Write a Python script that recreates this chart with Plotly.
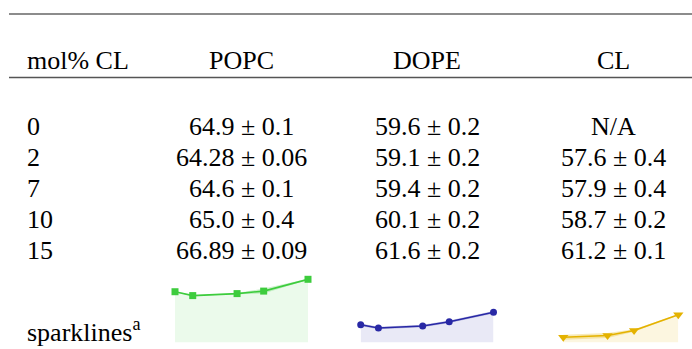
import plotly.graph_objects as go

mol_cl = [0, 2, 7, 10, 15]
row_labels = ["0", "2", "7", "10", "15"]
columns = ["POPC", "DOPE", "CL"]
popc_val = [64.9, 64.28, 64.6, 65.0, 66.89]
popc_err = [0.1, 0.06, 0.1, 0.4, 0.09]
popc_txt = ["64.9 ± 0.1", "64.28 ± 0.06", "64.6 ± 0.1", "65.0 ± 0.4", "66.89 ± 0.09"]
dope_val = [59.6, 59.1, 59.4, 60.1, 61.6]
dope_err = [0.2, 0.2, 0.2, 0.2, 0.2]
dope_txt = ["59.6 ± 0.2", "59.1 ± 0.2", "59.4 ± 0.2", "60.1 ± 0.2", "61.6 ± 0.2"]
cl_x = [2, 7, 10, 15]
cl_val = [57.6, 57.9, 58.7, 61.2]
cl_err = [0.4, 0.4, 0.2, 0.1]
cl_txt = ["N/A", "57.6 ± 0.4", "57.9 ± 0.4", "58.7 ± 0.2", "61.2 ± 0.1"]

W, H = 692, 349
FONT = "Liberation Serif"
FS = 26

fig = go.Figure()

def px(x):
    return x / W

def py(y):
    return 1 - y / H

# sparkline axes
x_doms = [(175, 308), (360.7, 493.5), (545.6, 678.3)]
y_dom = (270, 342.3)
y_range = [56.8, 68.38]

series = [
    (mol_cl, popc_val, popc_err, "rgb(61,204,61)", "rgba(61,204,61,0.10)", "rgba(61,204,61,0.25)", "square", 7),
    (mol_cl, dope_val, dope_err, "rgb(40,40,165)", "rgba(40,40,165,0.10)", "rgba(40,40,165,0.25)", "circle", 7),
    (cl_x, cl_val, cl_err, "rgb(228,178,0)", "rgba(228,178,0,0.12)", "rgba(228,178,0,0.28)", "triangle-down", 9),
]

for i, (xs, ys, es, col, area, band, sym, ms) in enumerate(series):
    n = "" if i == 0 else str(i + 1)
    xa, ya = "x" + n, "y" + n
    fig.add_trace(go.Scatter(x=xs, y=ys, mode="lines", line=dict(width=0), fill="tozeroy",
                             fillcolor=area, xaxis=xa, yaxis=ya, hoverinfo="skip"))
    lo = [v - e for v, e in zip(ys, es)]
    hi = [v + e for v, e in zip(ys, es)]
    fig.add_trace(go.Scatter(x=xs, y=lo, mode="lines", line=dict(width=0), xaxis=xa, yaxis=ya, hoverinfo="skip"))
    fig.add_trace(go.Scatter(x=xs, y=hi, mode="lines", line=dict(width=0), fill="tonexty",
                             fillcolor=band, xaxis=xa, yaxis=ya, hoverinfo="skip"))
    fig.add_trace(go.Scatter(x=xs, y=ys, mode="lines+markers", line=dict(color=col, width=1.6),
                             marker=dict(symbol=sym, size=ms, color=col), cliponaxis=False,
                             xaxis=xa, yaxis=ya))
    d = x_doms[i]
    axis_common = dict(visible=False, showgrid=False, zeroline=False, fixedrange=True)
    fig.update_layout(**{
        ("xaxis" + n): dict(domain=[px(d[0]), px(d[1])], range=[0, 15], anchor=ya, **axis_common),
        ("yaxis" + n): dict(domain=[py(y_dom[1]), py(y_dom[0])], range=y_range, anchor=xa, **axis_common),
    })

# table text
col_x = [241, 427, 613]
header_y = 61
row_y = [126.5, 157.5, 188.5, 219.5, 250.5]
ann = []
def add_text(t, x, y, xanchor):
    ann.append(dict(text=t, x=px(x), y=py(y), xref="paper", yref="paper", xanchor=xanchor,
                    yanchor="middle", showarrow=False, font=dict(family=FONT, size=FS, color="black")))

add_text("mol% CL", 25, header_y, "left")
for c, x in zip(columns, col_x):
    add_text(c, x, header_y, "center")
for r, y in zip(row_labels, row_y):
    add_text(r, 25, y, "left")
for txts, x in zip([popc_txt, dope_txt, cl_txt], col_x):
    for t, y in zip(txts, row_y):
        add_text(t, x, y, "center")
add_text("sparklines<sup>a</sup>", 25, 330, "left")

shapes = [
    dict(type="line", xref="paper", yref="paper", x0=px(9), x1=1, y0=py(14), y1=py(14),
         line=dict(color="#666666", width=1.5)),
    dict(type="line", xref="paper", yref="paper", x0=px(9), x1=1, y0=py(77.5), y1=py(77.5),
         line=dict(color="#555555", width=1.5)),
]

fig.update_layout(width=W, height=H, margin=dict(l=0, r=0, t=0, b=0), showlegend=False,
                  paper_bgcolor="white", plot_bgcolor="rgba(0,0,0,0)", annotations=ann, shapes=shapes)

fig.write_html("out.html", config={"displayModeBar": False})
